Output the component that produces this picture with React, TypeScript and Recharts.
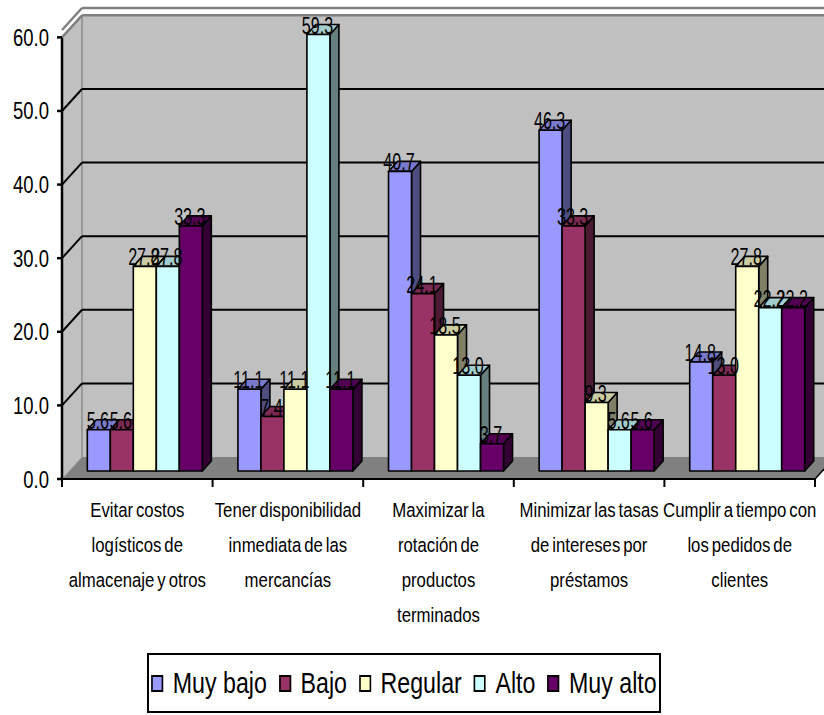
import React from "react";
import { BarChart, Bar, XAxis, YAxis, CartesianGrid, LabelList } from "recharts";

const categories = [
  "Evitar costos\nlogísticos de\nalmacenaje y otros",
  "Tener disponibilidad\ninmediata de las\nmercancías",
  "Maximizar la\nrotación de\nproductos\nterminados",
  "Minimizar las tasas\nde intereses por\npréstamos",
  "Cumplir a tiempo con\nlos pedidos de\nclientes",
];

const muyBajo = [5.6, 11.1, 40.7, 46.3, 14.8];
const bajo = [5.6, 7.4, 24.1, 33.3, 13.0];
const regular = [27.8, 11.1, 18.5, 9.3, 27.8];
const alto = [27.8, 59.3, 13.0, 5.6, 22.2];
const muyAlto = [33.3, 11.1, 3.7, 5.6, 22.2];

const yTicks = [0, 10, 20, 30, 40, 50, 60];

const series = [
  { key: "muyBajo", name: "Muy bajo", front: "#9999FF", top: "#7A7ACC", side: "#4D4D80" },
  { key: "bajo", name: "Bajo", front: "#993366", top: "#7A2952", side: "#4D1A33" },
  { key: "regular", name: "Regular", front: "#FFFFCC", top: "#CCCCA3", side: "#808066" },
  { key: "alto", name: "Alto", front: "#CCFFFF", top: "#A3CCCC", side: "#668080" },
  { key: "muyAlto", name: "Muy alto", front: "#660066", top: "#520052", side: "#330033" },
];

const rows = categories.map((name, i) => ({
  name,
  muyBajo: muyBajo[i],
  bajo: bajo[i],
  regular: regular[i],
  alto: alto[i],
  muyAlto: muyAlto[i],
}));

// layout of the plot box (front plane)
const W = 824;
const H = 715;
const PLOT_LEFT = 62;
const PLOT_TOP = 30;
const PLOT_RIGHT = 815;
const PLOT_BOTTOM = 479;
const Y_MAX = 61;
const BAND = (PLOT_RIGHT - PLOT_LEFT) / categories.length;
// y of the 60 line on the front plane
const Y_TOP_TICK = PLOT_BOTTOM - (60 / Y_MAX) * (PLOT_BOTTOM - PLOT_TOP);

// oblique depth of the walls, and where the bars stand inside it
const WALL_DX = 20;
const WALL_DY = 22;
const BAR_DX = 8;
const BAR_DY = 8;
const DEPTH_X = 9;
const DEPTH_Y = 10;

const FONT = "'Liberation Sans', Arial, sans-serif";

function Walls() {
  const bx = PLOT_LEFT + WALL_DX;
  const top = Y_TOP_TICK - WALL_DY;
  const floorY = PLOT_BOTTOM - WALL_DY;
  return (
    <svg width={W} height={H} style={{ position: "absolute", left: 0, top: 0 }}>
      <rect x={bx} y={top} width={W + 20 - bx} height={floorY - top} fill="#C0C0C0" />
      <polygon
        points={`${PLOT_LEFT},${Y_TOP_TICK} ${bx},${top} ${bx},${floorY} ${PLOT_LEFT},${PLOT_BOTTOM}`}
        fill="#C0C0C0"
      />
      <polygon
        points={`${PLOT_LEFT},${PLOT_BOTTOM} ${PLOT_RIGHT},${PLOT_BOTTOM} ${PLOT_RIGHT + WALL_DX},${floorY} ${bx},${floorY}`}
        fill="#808080"
      />
      <line x1={bx} y1={top} x2={bx} y2={floorY} stroke="#8C8C8C" strokeWidth={1.5} />
      <line x1={PLOT_LEFT} y1={PLOT_BOTTOM} x2={bx} y2={floorY} stroke="#A0A0A0" strokeWidth={1} />
      <line x1={PLOT_RIGHT} y1={PLOT_BOTTOM} x2={PLOT_RIGHT + WALL_DX} y2={floorY} stroke="#000" strokeWidth={1.5} />
      <line x1={PLOT_LEFT} y1={Y_TOP_TICK} x2={PLOT_LEFT} y2={PLOT_BOTTOM} stroke="#000" strokeWidth={2.5} />
    </svg>
  );
}

// one horizontal grid line: diagonal across the left wall, then along the back wall
function GridLine(props: any) {
  const { x1, x2, y1, index } = props;
  if (y1 >= PLOT_BOTTOM - 1) return <g key={`g${index}`} />;
  const isTop = y1 <= Y_TOP_TICK + 1;
  const stroke = isTop ? "#808080" : "#000";
  const w = isTop ? 2.5 : 2;
  return (
    <g key={`g${index}`}>
      <line x1={x1} y1={y1} x2={x1 + WALL_DX} y2={y1 - WALL_DY} stroke={stroke} strokeWidth={w} />
      <line x1={x1 + WALL_DX} y1={y1 - WALL_DY} x2={x2 + WALL_DX + 20} y2={y1 - WALL_DY} stroke={stroke} strokeWidth={w} />
    </g>
  );
}

function Bar3D(props: any) {
  const { x, y, width, height, s } = props;
  if (width == null || height == null) return null;
  const fx = x + BAR_DX;
  const fy = y - BAR_DY;
  const r = fx + width;
  const b = fy + height;
  return (
    <g stroke="#000" strokeWidth={1.6} strokeLinejoin="round">
      <polygon
        points={`${r},${fy} ${r + DEPTH_X},${fy - DEPTH_Y} ${r + DEPTH_X},${b - DEPTH_Y} ${r},${b}`}
        fill={s.side}
      />
      <polygon
        points={`${fx},${fy} ${fx + DEPTH_X},${fy - DEPTH_Y} ${r + DEPTH_X},${fy - DEPTH_Y} ${r},${fy}`}
        fill={s.top}
      />
      <rect x={fx} y={fy} width={width} height={height} fill={s.front} />
    </g>
  );
}

function ValueLabel(props: any) {
  const { x, y, width, value } = props;
  if (value == null) return null;
  const cx = x + BAR_DX + width / 2 - 1;
  const by = y - BAR_DY - 1;
  return (
    <text
      transform={`translate(${cx},${by}) scale(0.7,1)`}
      textAnchor="middle"
      fontFamily={FONT}
      fontSize={23}
      fill="#000"
    >
      {Number(value).toFixed(1)}
    </text>
  );
}

function YTick(props: any) {
  const { y, payload } = props;
  return (
    <text
      transform={`translate(49,${y + 8.5}) scale(0.77,1)`}
      textAnchor="end"
      fontFamily={FONT}
      fontSize={24}
      fill="#000"
    >
      {Number(payload.value).toFixed(1)}
    </text>
  );
}

function XTick(props: any) {
  const { x, y, payload, index } = props;
  const lines = String(payload.value).split("\n");
  const left = x - BAND / 2;
  return (
    <g>
      <line x1={left} y1={PLOT_BOTTOM} x2={left} y2={PLOT_BOTTOM + 8} stroke="#000" strokeWidth={2} />
      {index === categories.length - 1 && (
        <line x1={x + BAND / 2} y1={PLOT_BOTTOM} x2={x + BAND / 2} y2={PLOT_BOTTOM + 8} stroke="#000" strokeWidth={2} />
      )}
      {lines.map((line, i) => (
        <text
          key={i}
          transform={`translate(${x},${y + 30 + i * 35}) scale(0.86,1)`}
          textAnchor="middle"
          fontFamily={FONT}
          fontSize={19.5}
          wordSpacing={-2}
          fill="#000"
        >
          {line}
        </text>
      ))}
    </g>
  );
}

function LegendBox() {
  return (
    <div
      style={{
        position: "absolute",
        left: 147,
        top: 653,
        width: 514,
        height: 60,
        boxSizing: "border-box",
        border: "2px solid #000",
        background: "#fff",
        display: "flex",
        alignItems: "center",
        justifyContent: "center",
      }}
    >
      <div
        style={{
          display: "flex",
          alignItems: "center",
          transform: "scaleX(0.8)",
          whiteSpace: "nowrap",
          fontFamily: FONT,
          fontSize: 29,
          color: "#000",
        }}
      >
        {series.map((s, i) => (
          <div key={s.key} style={{ display: "flex", alignItems: "center", marginLeft: i === 0 ? 0 : 15 }}>
            <span
              style={{
                display: "inline-block",
                width: 15,
                height: 17,
                boxSizing: "border-box",
                border: "2px solid #000",
                background: s.front,
                marginRight: 12,
              }}
            />
            <span>{s.name}</span>
          </div>
        ))}
      </div>
    </div>
  );
}

export default function App() {
  return (
    <div style={{ position: "absolute", left: 0, top: 0, width: W, height: H, background: "#fff", overflow: "hidden" }}>
      <Walls />
      <div style={{ position: "absolute", left: 0, top: 0 }}>
        <BarChart
          width={W}
          height={H}
          data={rows}
          margin={{ top: PLOT_TOP, right: W - PLOT_RIGHT, bottom: H - PLOT_BOTTOM - 150, left: 0 }}
          barCategoryGap="11.5%"
          barGap={0}
        >
          <CartesianGrid vertical={false} horizontal={(p: any) => <GridLine {...p} />} />
          <XAxis
            dataKey="name"
            height={150}
            interval={0}
            tickLine={false}
            axisLine={{ stroke: "#000", strokeWidth: 2 }}
            tick={<XTick />}
          />
          <YAxis
            width={PLOT_LEFT}
            domain={[0, Y_MAX]}
            ticks={yTicks}
            interval={0}
            tickSize={5}
            tickLine={{ stroke: "#000", strokeWidth: 2.5 }}
            axisLine={false}
            tick={<YTick />}
          />
          {series.map((s) => (
            <Bar
              key={s.key}
              dataKey={s.key}
              name={s.name}
              fill={s.front}
              isAnimationActive={false}
              shape={(p: any) => <Bar3D {...p} s={s} />}
            >
              <LabelList dataKey={s.key} content={<ValueLabel />} />
            </Bar>
          ))}
        </BarChart>
      </div>
      <LegendBox />
    </div>
  );
}
